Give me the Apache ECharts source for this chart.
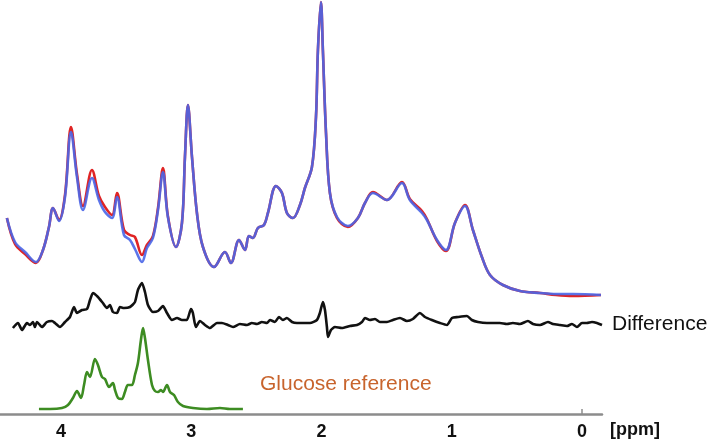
<!DOCTYPE html>
<html><head><meta charset="utf-8">
<script src="https://cdn.jsdelivr.net/npm/echarts@6/dist/echarts.min.js"></script>
<style>html,body{margin:0;padding:0;background:#fff}#c{width:713px;height:442px}</style>
</head><body><div id="c"></div>
<script>
// chemical shift grid (ppm) for the in-vivo spectrum
const specPpm = [4.415,4.353,4.276,4.192,4.138,4.092,4.061,4.015,3.969,3.923,3.877,3.831,3.762,3.708,3.662,3.608,3.570,3.516,3.470,3.432,3.378,3.340,3.294,3.255,3.217,3.179,3.117,3.071,3.048,3.025,2.994,2.956,2.910,2.825,2.741,2.695,2.633,2.587,2.557,2.526,2.488,2.441,2.411,2.349,2.303,2.265,2.219,2.165,2.127,2.073,2.042,2.027,2.004,1.989,1.965,1.935,1.881,1.797,1.720,1.666,1.605,1.497,1.382,1.321,1.228,1.190,1.113,1.044,0.975,0.898,0.837,0.768,0.706,0.607,0.476,0.322,0.200,0.069,-0.146];
// fitted spectrum (blue)
const fitValues = [196,172,162,152,164,187,206,193,217,282,237,204,236,214,202,196,217,179,174,165,152,166,176,204,242,197,167,191,257,309,257,201,167,147,162,151,174,164,178,176,186,189,201,228,221,201,196,209,226,247,297,364,412,364,281,221,197,188,196,211,221,214,231,214,201,194,174,164,191,208,184,157,139,129,123,121,120,120,119];
// measured spectrum (red)
const measuredValues = [196,170,160,151,164,187,206,194,219,287,240,208,244,218,207,199,221,184,179,177,159,169,178,206,246,198,167,191,257,309,257,201,167,147,162,151,174,164,178,176,186,189,201,228,221,201,196,209,226,247,297,364,412,364,281,221,196,187,196,211,222,214,232,215,203,195,173,163,191,209,184,157,139,129,123,121,119,118,119];
// difference trace
const diffPpm = [4.369,4.330,4.299,4.261,4.238,4.215,4.200,4.184,4.146,4.108,4.069,4.046,4.008,3.969,3.931,3.900,3.877,3.839,3.800,3.777,3.754,3.716,3.678,3.647,3.624,3.601,3.570,3.547,3.516,3.470,3.432,3.409,3.378,3.355,3.332,3.294,3.255,3.217,3.186,3.148,3.109,3.071,3.033,3.002,2.987,2.964,2.933,2.894,2.856,2.802,2.764,2.718,2.679,2.626,2.572,2.534,2.495,2.457,2.418,2.395,2.357,2.326,2.296,2.265,2.226,2.188,2.142,2.088,2.035,2.012,1.989,1.973,1.958,1.950,1.927,1.896,1.843,1.781,1.727,1.689,1.666,1.628,1.589,1.551,1.497,1.451,1.397,1.344,1.298,1.244,1.205,1.152,1.090,1.036,0.998,0.952,0.883,0.845,0.798,0.729,0.683,0.630,0.576,0.530,0.476,0.415,0.376,0.322,0.261,0.223,0.169,0.115,0.077,0.038,0.000,-0.038,-0.077,-0.115,-0.154];
const diffValues = [86,91,84,91,89,92,87,92,87,92,93,91,87,92,97,107,101,104,105,114,121,117,111,106,109,102,101,107,106,107,112,124,131,122,109,102,103,108,101,94,96,94,94,105,101,87,93,89,86,91,91,89,87,90,89,91,90,92,91,94,92,97,94,96,92,91,91,91,94,101,112,104,87,77,84,87,86,88,89,92,96,94,95,92,92,94,96,93,95,101,97,94,91,89,96,97,98,94,92,91,91,91,90,91,90,93,90,89,92,90,89,88,90,87,91,91,92,91,89];
// glucose reference
const glucosePpm = [4.169,4.084,3.992,3.946,3.908,3.877,3.846,3.823,3.800,3.777,3.739,3.716,3.685,3.662,3.631,3.601,3.585,3.562,3.532,3.509,3.486,3.455,3.432,3.409,3.386,3.370,3.355,3.332,3.301,3.278,3.255,3.232,3.217,3.186,3.163,3.132,3.102,3.063,2.987,2.879,2.779,2.703,2.603];
const glucoseValues = [5,5,6,9,16,23,16,29,42,37,55,49,37,35,27,31,24,16,15,22,29,29,39,51,74,86,76,54,29,23,22,24,22,29,22,19,12,8,6,5,6,5,5];
const tickLabels = [4,3,2,1,0];
const axisName = '[ppm]';
const diffLabel = 'Difference';
const glucoseLabel = 'Glucose reference';

const zip = (xs, ys) => xs.map((x, i) => [x, ys[i]]);
const chart = echarts.init(document.getElementById('c'), null, {renderer: 'canvas'});
const font = '"Liberation Sans", Arial, Helvetica, sans-serif';
chart.setOption({
  animation: false,
  backgroundColor: '#ffffff',
  grid: {left: 0, right: 111, top: 0, bottom: 28, containLabel: false},
  xAxis: {
    type: 'value', inverse: true, min: -0.154, max: 4.468,
    axisLine: {show: true, onZero: false, lineStyle: {color: '#8c8c8c', width: 2.5}},
    axisTick: {show: true, customValues: [0], inside: true, length: 5, lineStyle: {color: '#8c8c8c', width: 1.5}},
    axisLabel: {customValues: tickLabels, fontSize: 18, fontWeight: 'bold', color: '#111', margin: 9, fontFamily: font},
    splitLine: {show: false}
  },
  yAxis: {type: 'value', min: 0, max: 414, show: false},
  graphic: [
    {type: 'text', left: 610, top: 421, style: {text: axisName, font: 'bold 18px ' + font, fill: '#111'}},
    {type: 'text', left: 612, top: 314, style: {text: diffLabel, font: '21px ' + font, fill: '#111'}},
    {type: 'text', left: 260, top: 374, style: {text: glucoseLabel, font: '21px ' + font, fill: '#c8642d'}}
  ],
  series: [
    {type: 'line', data: zip(specPpm, measuredValues), showSymbol: false, smooth: 0.35, clip: false,
     lineStyle: {color: '#e02424', width: 2.6}},
    {type: 'line', data: zip(specPpm, fitValues), showSymbol: false, smooth: 0.35, clip: false,
     lineStyle: {color: '#4a66e8', width: 2.6, opacity: 0.9}},
    {type: 'line', data: zip(diffPpm, diffValues), showSymbol: false, smooth: 0.2, clip: false,
     lineStyle: {color: '#111', width: 2.6}},
    {type: 'line', data: zip(glucosePpm, glucoseValues), showSymbol: false, smooth: 0.3, clip: false,
     lineStyle: {color: '#3d8c22', width: 2.6}}
  ]
});
</script>
</body></html>
